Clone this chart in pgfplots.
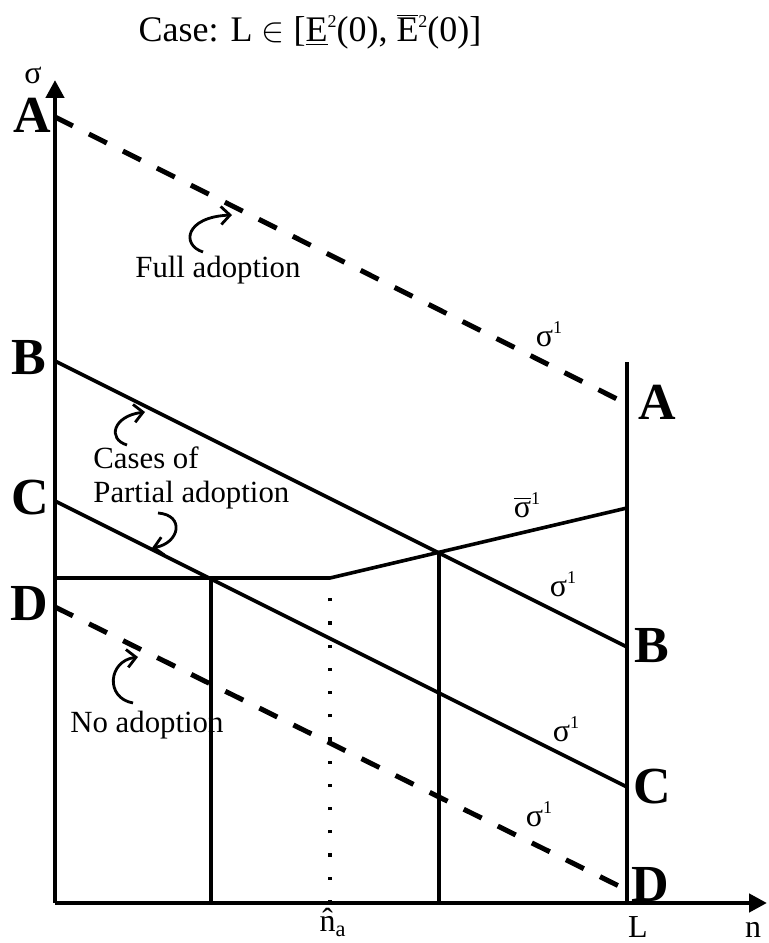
\documentclass[border=0pt]{standalone}
\usepackage{pgfplots}
\pgfplotsset{compat=1.18}
\usepackage{fontspec}
\setmainfont{Liberation Serif}
\usetikzlibrary{arrows.meta}

\newcommand{\supr}[1]{\raisebox{0.9ex}{\fontsize{9}{9}\selectfont #1}}

\begin{document}
\begin{tikzpicture}
\begin{axis}[
  x=0.5pt, y=0.5pt,
  anchor=origin, at={(0,0)},
  xmin=0, xmax=712, ymin=0, ymax=823,
  axis lines=left,
  axis line style={line width=2.2pt, -{Triangle[length=9pt,width=9pt]}},
  every outer x axis line/.append style={-{Triangle[length=9pt,width=9pt]}},
  every outer y axis line/.append style={-{Triangle[length=9pt,width=9pt]}},
  xtick=\empty, ytick=\empty,
  clip=false,
]
% sigma^1 lines
\addplot[black, line width=2.5pt, dash pattern=on 10pt off 9pt] coordinates {(0,786) (572,499)};
\addplot[black, line width=1.8pt] coordinates {(0,542) (572,256)};
\addplot[black, line width=1.8pt] coordinates {(0,402) (572,116)};
\addplot[black, line width=2.5pt, dash pattern=on 10pt off 9pt] coordinates {(0,296) (572,13)};
% sigma-bar
\addplot[black, line width=1.8pt] coordinates {(0,325) (275,325) (572,395)};
% verticals
\addplot[black, line width=1.8pt] coordinates {(156,0) (156,325)};
\addplot[black, line width=1.8pt] coordinates {(384,0) (384,350)};
\addplot[black, line width=1.8pt, dash pattern=on 1.6pt off 10pt] coordinates {(275,0) (275,325)};
\addplot[black, line width=1.8pt] coordinates {(572,0) (572,541)};

% letters
\begin{scope}[every node/.style={font=\fontsize{26}{30}\selectfont\bfseries}]
\node at (axis cs:-23,788) {A};
\node at (axis cs:-26,545) {B};
\node at (axis cs:-25,405) {C};
\node at (axis cs:-26,299) {D};
\node at (axis cs:602,501) {A};
\node at (axis cs:597,257) {B};
\node at (axis cs:597,116) {C};
\node at (axis cs:595,18) {D};
\end{scope}

% sigma labels
\begin{scope}[every node/.style={font=\fontsize{16}{19}\selectfont}]
\node at (axis cs:494,569) {σ\supr{1}};
\node at (axis cs:472,398) {$\overline{\hbox{σ}}$\supr{1}};
\node at (axis cs:508,319) {σ\supr{1}};
\node at (axis cs:511,174) {σ\supr{1}};
\node at (axis cs:484,89) {σ\supr{1}};
\end{scope}

% axis labels
\begin{scope}[every node/.style={font=\fontsize{16}{19}\selectfont}]
\node at (axis cs:-22,828) {σ};
\node[anchor=base] at (axis cs:698,-34) {n};
\node[anchor=base] at (axis cs:583,-34) {L};
\node[anchor=base] at (axis cs:278,-28) {\^{n}\textsubscript{a}};
\end{scope}

% annotations
\begin{scope}[every node/.style={font=\fontsize{15.4}{18}\selectfont, anchor=base west, inner sep=0pt}]
\node at (axis cs:80,625) {Full adoption};
\node at (axis cs:38,434) {Cases of};
\node at (axis cs:38,400) {Partial adoption};
\node at (axis cs:15,170) {No adoption};
\end{scope}

\begin{scope}[line width=1.4pt, -{Straight Barb[length=4.5pt,width=9pt]}]
\draw (axis cs:148,651) .. controls (axis cs:126,658) and (axis cs:130,686) .. (axis cs:177,688);
\draw (axis cs:72,458) .. controls (axis cs:52,464) and (axis cs:58,487) .. (axis cs:90,491);
\draw (axis cs:103,390) .. controls (axis cs:130,388) and (axis cs:125,360) .. (axis cs:97,355);
\draw (axis cs:78,200) .. controls (axis cs:50,205) and (axis cs:53,242) .. (axis cs:83,246);
\end{scope}

% title
\node[font=\fontsize{18}{22}\selectfont] at (axis cs:255,871)
  {Case: L $\in$ [\underline{E}\supr{2}(0), $\overline{\hbox{E}}$\supr{2}(0)]};
\end{axis}
\pgfresetboundingbox
\path[use as bounding box] (-27.5pt,-20pt) rectangle (356.5pt,451.5pt);
\end{tikzpicture}
\end{document}
